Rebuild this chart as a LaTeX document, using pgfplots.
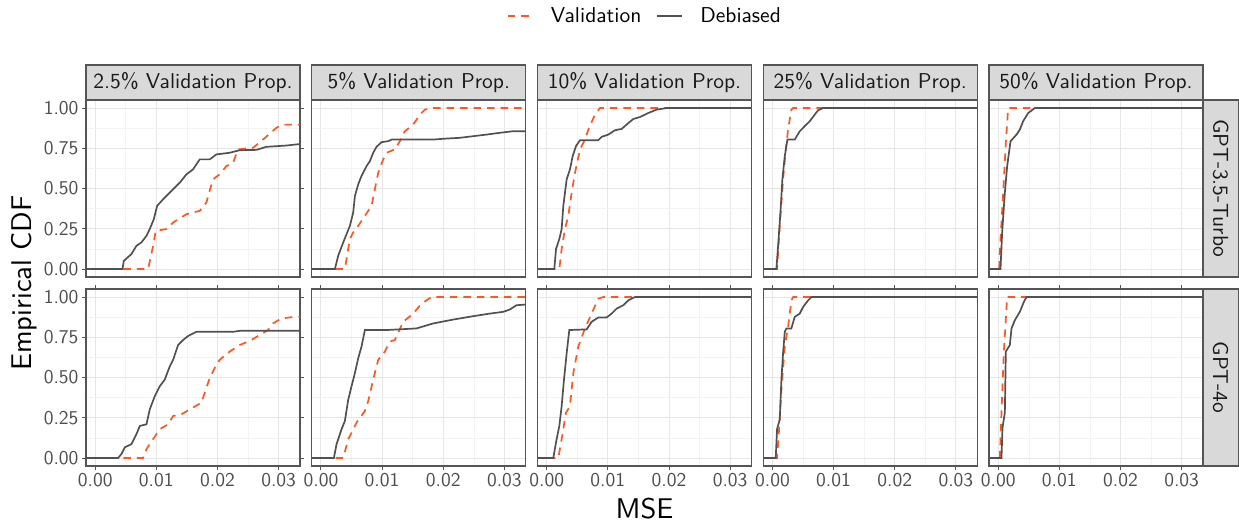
\documentclass[border=0pt]{standalone}
\usepackage{fontspec}
\setsansfont{lmsans10-regular.otf}
\usepackage{pgfplots}
\pgfplotsset{compat=1.18}
\definecolor{valc}{RGB}{255,87,34}
\definecolor{debc}{RGB}{85,80,80}
\definecolor{bordc}{RGB}{85,85,85}
\definecolor{gridmaj}{RGB}{230,230,230}
\definecolor{gridmin}{RGB}{243,243,243}
\definecolor{stripc}{RGB}{217,217,217}
\definecolor{tickc}{RGB}{77,77,77}
\definecolor{striptxt}{RGB}{26,26,26}
\newcommand{\tickfont}{\sffamily\fontsize{19.5}{19.5}\selectfont}
\newcommand{\stripfont}{\sffamily\fontsize{21.5}{21.5}\selectfont}
\newcommand{\legfont}{\sffamily\fontsize{21.5}{21.5}\selectfont}
\newcommand{\titlefont}{\sffamily\fontsize{28.5}{28.5}\selectfont}
\pgfplotsset{
 facet/.style={
  scale only axis, width=214pt, height=177pt,
  xmin=-0.0015, xmax=0.0335, ymin=-0.05, ymax=1.05,
  xtick={0,0.01,0.02,0.03}, ytick={0,0.25,0.5,0.75,1},
  minor xtick={0.005,0.015,0.025}, minor ytick={0.125,0.375,0.625,0.875},
  scaled x ticks=false, scaled y ticks=false,
  xmajorgrids, ymajorgrids, xminorgrids, yminorgrids,
  major grid style={draw=gridmaj, line width=0.9pt},
  minor grid style={draw=gridmin, line width=0.5pt},
  axis line style={draw=bordc, line width=1.1pt},
  tick align=outside, major tick length=4pt, minor tick length=0pt,
  tick style={draw=bordc, line width=0.9pt},
  xticklabels={}, yticklabels={},
  ticklabel style={font=\tickfont, text=tickc},
  clip=true,
 },
 noxt/.style={xmajorticks=false},
 noyt/.style={ymajorticks=false},
 xlab/.style={xticklabels={0.00,0.01,0.02,0.03}},
 ylab/.style={yticklabels={0.00,0.25,0.50,0.75,1.00}},
 val/.style={draw=valc, line width=1.7pt, dash pattern=on 7.5pt off 6pt},
 deb/.style={draw=debc, line width=1.7pt},
}
\begin{document}
\begin{tikzpicture}
\useasboundingbox (0,0) rectangle (1239pt,525pt);
% ---------------- Row 1: GPT-3.5-Turbo ----------------
\begin{axis}[facet, noxt, ylab, at={(86pt,248pt)}, anchor=south west,
  legend style={at={(2.612,1.475)}, anchor=center, draw=none, fill=none,
    legend columns=2, font=\legfont, nodes={inner xsep=2pt},
    /tikz/every even column/.append style={column sep=13pt}},
  legend image code/.code={\draw[#1] (0pt,0pt) -- (25pt,0pt); \path[draw=none] (0pt,0pt) -- (41pt,0pt);}]
\addplot[val] coordinates {(-0.002,0) (0.00866,0) (0.00948,0.144) (0.00991,0.237) (0.01166,0.248) (0.01275,0.289) (0.01492,0.34) (0.0171,0.361) (0.01819,0.413) (0.01863,0.474) (0.01928,0.557) (0.02037,0.588) (0.02146,0.639) (0.02255,0.66) (0.02337,0.743) (0.02582,0.753) (0.02745,0.804) (0.02963,0.877) (0.03072,0.897) (0.034,0.897)};
\addlegendentry{Validation}
\addplot[deb] coordinates {(-0.002,0) (0.00447,0) (0.00468,0.05) (0.00594,0.093) (0.00675,0.144) (0.00757,0.165) (0.00839,0.206) (0.00893,0.248) (0.00959,0.309) (0.01013,0.392) (0.01111,0.433) (0.01193,0.464) (0.01275,0.495) (0.01383,0.536) (0.01492,0.588) (0.01601,0.619) (0.0171,0.681) (0.01874,0.681) (0.01983,0.712) (0.022,0.722) (0.02364,0.738) (0.02636,0.740) (0.028,0.759) (0.03126,0.767) (0.03344,0.776) (0.034,0.776)};
\addlegendentry{Debiased}
\end{axis}
\begin{axis}[facet, noxt, noyt, at={(311.75pt,248pt)}, anchor=south west]
\addplot[val] coordinates {(-0.002,0) (0.00392,0) (0.00474,0.186) (0.00528,0.227) (0.0061,0.268) (0.00719,0.33) (0.00828,0.392) (0.00882,0.495) (0.00937,0.598) (0.01019,0.681) (0.01073,0.722) (0.01209,0.743) (0.01291,0.794) (0.01373,0.856) (0.01509,0.897) (0.01618,0.959) (0.01699,0.99) (0.01808,1) (0.034,1)};
\addplot[deb] coordinates {(-0.002,0) (0.00229,0) (0.00283,0.083) (0.00365,0.165) (0.00474,0.268) (0.00528,0.351) (0.00556,0.454) (0.0061,0.526) (0.00664,0.578) (0.00746,0.639) (0.00801,0.67) (0.00855,0.722) (0.0091,0.759) (0.00991,0.788) (0.011,0.794) (0.01155,0.804) (0.01835,0.804) (0.01999,0.809) (0.02271,0.815) (0.02489,0.825) (0.02707,0.835) (0.02925,0.846) (0.03143,0.856) (0.034,0.856)};
\end{axis}
\begin{axis}[facet, noxt, noyt, at={(537.5pt,248pt)}, anchor=south west]
\addplot[val] coordinates {(-0.002,0) (0.00207,0) (0.00245,0.124) (0.00299,0.248) (0.00354,0.33) (0.00408,0.474) (0.00463,0.598) (0.00545,0.743) (0.00627,0.804) (0.00681,0.866) (0.0079,0.959) (0.00871,1) (0.034,1)};
\addplot[deb] coordinates {(-0.002,0) (0.00125,0) (0.00153,0.124) (0.00207,0.186) (0.00245,0.248) (0.00272,0.392) (0.00327,0.557) (0.00381,0.619) (0.00425,0.701) (0.00479,0.763) (0.00545,0.8) (0.00844,0.8) (0.00899,0.821) (0.01008,0.835) (0.01117,0.862) (0.01225,0.87) (0.01307,0.897) (0.01416,0.932) (0.01525,0.944) (0.01661,0.969) (0.01797,0.99) (0.01961,1) (0.034,1)};
\end{axis}
\begin{axis}[facet, noxt, noyt, at={(763.25pt,248pt)}, anchor=south west]
\addplot[val] coordinates {(-0.002,0) (0.00076,0) (0.0012,0.268) (0.00174,0.557) (0.00218,0.743) (0.00256,0.866) (0.0031,0.99) (0.00338,1) (0.034,1)};
\addplot[deb] coordinates {(-0.002,0) (0.00065,0) (0.00093,0.144) (0.00131,0.351) (0.00163,0.557) (0.00202,0.701) (0.00245,0.804) (0.00365,0.804) (0.00447,0.856) (0.00528,0.887) (0.0061,0.918) (0.00692,0.959) (0.00746,0.986) (0.00828,1) (0.034,1)};
\end{axis}
\begin{axis}[facet, noxt, noyt, at={(989pt,248pt)}, anchor=south west]
\addplot[val] coordinates {(-0.002,0) (0.00016,0) (0.00038,0.186) (0.00082,0.474) (0.00125,0.784) (0.00163,1) (0.034,1)};
\addplot[deb] coordinates {(-0.002,0) (0.00038,0) (0.00065,0.227) (0.00109,0.474) (0.00147,0.639) (0.00202,0.794) (0.003,0.835) (0.00354,0.866) (0.00408,0.918) (0.0049,0.969) (0.00599,1) (0.034,1)};
\end{axis}
% ---------------- Row 2: GPT-4o ----------------
\begin{axis}[facet, xlab, ylab, at={(86pt,59pt)}, anchor=south west]
\addplot[val] coordinates {(-0.002,0) (0.00784,0) (0.00839,0.055) (0.00948,0.117) (0.01057,0.179) (0.01193,0.209) (0.01275,0.261) (0.01411,0.271) (0.01547,0.302) (0.01737,0.343) (0.01792,0.405) (0.01874,0.497) (0.01955,0.559) (0.02037,0.61) (0.022,0.661) (0.02364,0.702) (0.02527,0.727) (0.02691,0.764) (0.02827,0.795) (0.02908,0.836) (0.03045,0.867) (0.03263,0.877) (0.034,0.877)};
\addplot[deb] coordinates {(-0.002,0) (0.00376,0) (0.0043,0.025) (0.00485,0.066) (0.00594,0.086) (0.00675,0.148) (0.0073,0.199) (0.00839,0.209) (0.00893,0.302) (0.00975,0.384) (0.01057,0.446) (0.01138,0.487) (0.0122,0.569) (0.01275,0.61) (0.01356,0.702) (0.01438,0.733) (0.0152,0.758) (0.01656,0.784) (0.02255,0.784) (0.02364,0.79) (0.034,0.79)};
\end{axis}
\begin{axis}[facet, xlab, noyt, at={(311.75pt,59pt)}, anchor=south west]
\addplot[val] coordinates {(-0.002,0) (0.00365,0) (0.00447,0.117) (0.00583,0.22) (0.00719,0.292) (0.00773,0.353) (0.00855,0.487) (0.00937,0.61) (0.01046,0.661) (0.01127,0.723) (0.01209,0.733) (0.01345,0.846) (0.01509,0.897) (0.01645,0.959) (0.01808,1) (0.034,1)};
\addplot[deb] coordinates {(-0.002,0) (0.00212,0) (0.00256,0.086) (0.00338,0.179) (0.00392,0.23) (0.00447,0.363) (0.00501,0.446) (0.00556,0.528) (0.0061,0.62) (0.00664,0.692) (0.00719,0.795) (0.01073,0.795) (0.01563,0.805) (0.01836,0.836) (0.02162,0.86) (0.02489,0.881) (0.02761,0.897) (0.02979,0.908) (0.03088,0.922) (0.03197,0.949) (0.034,0.955)};
\end{axis}
\begin{axis}[facet, xlab, noyt, at={(537.5pt,59pt)}, anchor=south west]
\addplot[val] coordinates {(-0.002,0) (0.00191,0) (0.00245,0.117) (0.00316,0.281) (0.00381,0.322) (0.00436,0.528) (0.00517,0.692) (0.00626,0.805) (0.00735,0.897) (0.00844,0.99) (0.00926,1) (0.034,1)};
\addplot[deb] coordinates {(-0.002,0) (0.00109,0) (0.00153,0.097) (0.00207,0.199) (0.00245,0.322) (0.00283,0.487) (0.00327,0.651) (0.0037,0.795) (0.00654,0.799) (0.00735,0.846) (0.00844,0.873) (0.0098,0.873) (0.01062,0.897) (0.01144,0.928) (0.01253,0.949) (0.01334,0.979) (0.01443,1) (0.034,1)};
\end{axis}
\begin{axis}[facet, xlab, noyt, at={(763.25pt,59pt)}, anchor=south west]
\addplot[val] coordinates {(-0.002,0) (0.00076,0) (0.00109,0.179) (0.00147,0.425) (0.00202,0.692) (0.00256,0.815) (0.0031,0.979) (0.00338,1) (0.034,1)};
\addplot[deb] coordinates {(-0.002,0) (0.00054,0) (0.00076,0.179) (0.0012,0.24) (0.00147,0.487) (0.00174,0.651) (0.00202,0.784) (0.00229,0.805) (0.0031,0.805) (0.00365,0.877) (0.00447,0.897) (0.00501,0.938) (0.00583,0.979) (0.00637,1) (0.034,1)};
\end{axis}
\begin{axis}[facet, xlab, noyt, at={(989pt,59pt)}, anchor=south west]
\addplot[val] coordinates {(-0.002,0) (0.00027,0) (0.00054,0.281) (0.00093,0.661) (0.00147,1) (0.034,1)};
\addplot[deb] coordinates {(-0.002,0) (0.00054,0) (0.00071,0.189) (0.00109,0.281) (0.00125,0.661) (0.00191,0.702) (0.00218,0.805) (0.00272,0.856) (0.00354,0.908) (0.00419,0.969) (0.00463,1) (0.034,1)};
\end{axis}
% ---------------- Strips ----------------
\tikzset{strip/.style={fill=stripc, draw=bordc, line width=1.1pt}}
\draw[strip] (86pt,425pt) rectangle (300pt,460pt);
\draw[strip] (311.75pt,425pt) rectangle (525.75pt,460pt);
\draw[strip] (537.5pt,425pt) rectangle (751.5pt,460pt);
\draw[strip] (763.25pt,425pt) rectangle (977.25pt,460pt);
\draw[strip] (989pt,425pt) rectangle (1203pt,460pt);
\draw[strip] (1203pt,248pt) rectangle (1238.4pt,425pt);
\draw[strip] (1203pt,59pt) rectangle (1238.4pt,236pt);
\begin{scope}[every node/.style={font=\stripfont, text=striptxt}]
\node at (193pt,442.5pt) {2.5\% Validation Prop.};
\node at (418.75pt,442.5pt) {5\% Validation Prop.};
\node at (644.5pt,442.5pt) {10\% Validation Prop.};
\node at (870.25pt,442.5pt) {25\% Validation Prop.};
\node at (1096pt,442.5pt) {50\% Validation Prop.};
\node[rotate=-90] at (1220.7pt,336.5pt) {GPT-3.5-Turbo};
\node[rotate=-90] at (1220.7pt,147.5pt) {GPT-4o};
\end{scope}
\node[font=\titlefont] at (644.5pt,16pt) {MSE};
\node[font=\titlefont, rotate=90] at (24pt,242pt) {Empirical CDF};
\end{tikzpicture}
\end{document}
